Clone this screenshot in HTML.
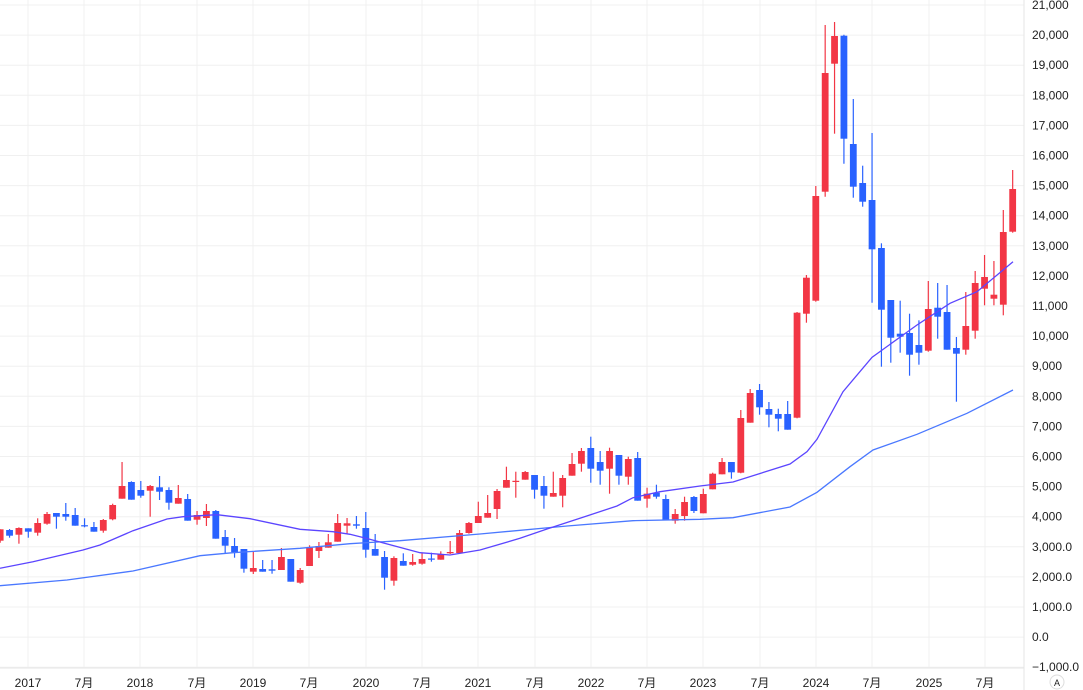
<!DOCTYPE html>
<html><head><meta charset="utf-8">
<style>
html,body{margin:0;padding:0;background:#fff;width:1083px;height:690px;overflow:hidden}
svg{display:block}
text{font-family:"Liberation Sans","Noto Sans CJK JP",sans-serif;font-size:12px;fill:#222}
</style></head>
<body>
<svg id="c" width="1083" height="690" xmlns="http://www.w3.org/2000/svg"></svg>
<script>
const s=document.getElementById('c');let h='';
// grid horizontal
const lab=['21,000','20,000','19,000','18,000','17,000','16,000','15,000','14,000','13,000','12,000','11,000','10,000','9,000','8,000','7,000','6,000','5,000','4,000','3,000.0','2,000.0','1,000.0','0.0','\u22121,000.0'];
for(let k=0;k<lab.length;k++){const y=5+30.1*k;h+=`<line x1="0" x2="1024" y1="${y}" y2="${y}" stroke="#f0f0f0"/>`;h+=`<text x="1032" y="${y+4}">${lab[k]}</text>`;}
const xl=[['2017',28],['7月',84],['2018',140],['7月',197],['2019',253],['7月',309],['2020',366],['7月',422],['2021',478],['7月',535],['2022',591],['7月',647],['2023',703],['7月',760],['2024',816],['7月',872],['2025',929],['7月',985]];
for(const [t,x] of xl){h+=`<line x1="${x}" x2="${x}" y1="0" y2="668" stroke="#f0f0f0"/>`;h+=`<text x="${x}" y="687" text-anchor="middle">${t}</text>`;}
h+=`<line x1="1024" x2="1024" y1="0" y2="690" stroke="#e6e6e6"/>`;
h+=`<line x1="0" x2="1024" y1="668" y2="668" stroke="#e6e6e6"/>`;
// candles: [color, bodyTop, bodyBot, wickTop, wickBot]
const C=[
['r',529.3,540.7,529.3,542.7],['b',530,535.7,529,537.7],['r',528,534.7,527.3,543.7],['b',528.3,531.7,528.3,537.7],['r',523,532.7,518.3,535.7],
['r',514,523.7,512,524.7],['b',513,516.7,513,528.7],['b',514,516.7,503,520.7],['b',515,525.7,508,525.7],['b',525.2,526.2,518.3,527.3],
['b',527,531.7,522,531.7],['r',520,530.7,519,532.7],['r',505,519.3,503.7,520.3],['r',486,498.7,462,498.7],['b',482,499.7,481.3,499.7],
['b',490,495.7,481,497.7],['r',486,490.7,485,516.7],['b',487.3,491.7,476,500],['b',490,502.7,487.3,509.7],['r',498,503.7,485,503.7],
['b',499,520.7,494,520.7],['r',515,519.7,511,524.7],['r',511,518,504,526],['b',511,538.7,510,538.7],['b',537,545.7,530,553.3],
['b',546,552.3,538,557.7],['b',549,568.7,549,572.7],['r',568,571.7,551.7,574],['b',569,571.7,560,571.7],['b',569.3,570.7,560,573.7],
['r',557,570,548,570],['b',559,581.7,559,581.7],['r',570,582.7,568,583.7],['r',547.7,566,545.3,566],['r',546,551,542,558],
['r',542.3,547.7,534,547.7],['r',523,541.7,514,541.7],['r',523.3,525.7,518,534.3],['b',524.3,525.7,516,528.7],['b',528,549.7,512,557.7],
['b',549,555.7,534,555.7],['b',557,577.7,551,589.7],['r',558,580.7,556.3,585.7],['b',561,565.7,553.3,565.7],['r',562,564.7,554,565.7],
['r',559,563.7,553.3,564.7],['b',558.5,559.5,552.7,561.7],['r',554,559.7,551.3,559.7],['r',552,553.3,541,554],['r',533,553,530,553],
['r',523,533,522,533.7],['r',516,523,501.7,523],['r',513,517.7,495,517.7],['r',491,509,489,519],['r',480,487.7,466.7,487.7],
['r',480.8,481.8,471.7,497.7],['r',472,479.7,471,479.7],['b',475,489.7,475,498.7],['b',486,495.7,476,508.7],['r',493,496.7,471.7,496.7],
['r',478,495.7,475,507.3],['r',464,475.7,453,475.7],['r',451,463.7,448,471.7],['b',448,468.7,436.7,482.7],['b',462,470.7,451,484.7],
['r',451,468.7,447.7,493.7],['b',455,475.7,455,484.7],['r',459,476.7,456.7,484.7],['b',458,500.7,452,500.7],['r',493.7,498.7,487.7,507.7],
['b',492.7,496.7,484.7,498.7],['b',499,519.7,494.7,519.7],['r',514,520.7,509,523.7],['r',502,516,496.7,520.7],['b',497,511,496,513],
['r',494,513.3,488.7,513.3],['r',473.7,489.3,472.7,489.3],['r',462,474.3,458,474.3],['b',462,472.3,462,478.7],['r',418,472.7,410,473.3],
['r',393,422.7,389,422.7],['b',390,407.3,384,414.7],['b',409,414.7,402,427.3],['b',414,418.7,408.7,431.3],['b',414,429.7,401,429.7],
['r',312.7,417.7,312,418.3],['r',277.7,313.7,275,322.7],['r',196,300.7,186,301.7],['r',73,191.7,25,196.7],['r',36,63.7,22,133.7],
['b',35.7,138.7,34.7,163.7],['b',144,186.7,99,197.7],['b',183,201.7,165.7,206.7],['b',200,249.3,133,302.7],['b',248,309.7,243.3,366.7],
['b',300,337.7,300,362.7],['b',333.7,336.7,300.7,352.7],['b',333,354.7,313.7,375.7],['b',345,352.7,320.3,364.7],['r',309,350.7,281,351.7],
['b',307.7,316.7,283,338.7],['b',312,349.7,285,349.7],['b',348,353.7,337,401.7],['r',326,349.7,292,354.7],['r',283,330.7,271,338.7],
['r',277,288.7,255,305.3],['r',294.7,298.7,261,305.3],['r',232,304.7,210,315.3],['r',189,231.7,170,232.7]];
const RED='#f23645',BLUE='#2962ff';
C.forEach((c,i)=>{const x=28.3+9.375*(i-3);const col=c[0]=='r'?RED:BLUE;
h+=`<line x1="${x}" x2="${x}" y1="${c[3]}" y2="${c[4]}" stroke="${col}" stroke-width="1.2"/>`;
const hh=Math.max(c[2]-c[1],1.2);h+=`<rect x="${x-3.4}" y="${c[1]}" width="6.8" height="${hh}" fill="${col}"/>`;});
const sm=[[0,568.3],[33,561.7],[83,550],[100,545],[133,530.7],[167,519],[183,516.7],[217,514.7],[250,518.7],[300,529.3],[333,531.7],[350,534.3],[366,538.3],[420,552.7],[450,555],[480,550],[520,538.3],[547,529],[583,517.3],[617,506],[633,497.7],[660,491.7],[700,486],[733,482],[790,464],[807,451.7],[817,439.3],[843,391.7],[872,357.3],[917,325],[950,303.3],[977,291.7],[1013,261.7]];
const lm=[[0,585.7],[67,580],[133,571],[200,555.7],[233,552.7],[300,548.3],[350,543.7],[400,540.7],[480,534],[567,526],[633,520.7],[700,519.3],[733,517.7],[790,507],[817,492.3],[850,466.7],[873,450],[917,434.3],[967,413.3],[1013,390]];
const pl=a=>a.map(p=>p.join(',')).join(' ');
h+=`<polyline points="${pl(lm)}" fill="none" stroke="#4a78ff" stroke-width="1.3"/>`;
h+=`<polyline points="${pl(sm)}" fill="none" stroke="#5b45ff" stroke-width="1.3"/>`;
h+=`<circle cx="1057" cy="682" r="7" fill="#fff" stroke="#ddd"/><text x="1057" y="686" text-anchor="middle" style="font-size:9px">A</text>`;
s.innerHTML=h;
</script>
</body></html>
